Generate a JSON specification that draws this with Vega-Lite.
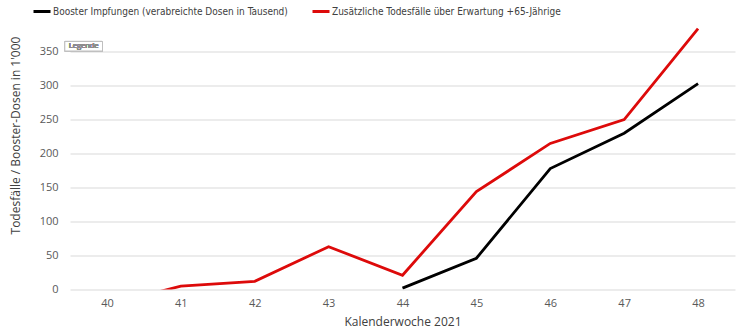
{
  "$schema": "https://vega.github.io/schema/vega-lite/v6.json",
  "width": 665,
  "height": 265,
  "autosize": {"type": "none"},
  "padding": {"left": 70, "top": 24.5, "right": 5, "bottom": 44.5},
  "background": "white",
  "config": {
    "view": {"stroke": null},
    "font": "Open Sans",
    "axisX": {
      "grid": false,
      "domain": false,
      "ticks": false,
      "labelFont": "Open Sans",
      "labelFontSize": 11,
      "labelColor": "#595959",
      "labelPadding": 8,
      "titleFont": "Open Sans",
      "titleFontSize": 12,
      "titleFontWeight": "normal",
      "titleColor": "#404040",
      "titlePadding": 8
    },
    "axisY": {
      "grid": true,
      "gridColor": "#d9d9d9",
      "gridWidth": 1,
      "domain": false,
      "ticks": false,
      "labelFont": "Open Sans",
      "labelFontSize": 11,
      "labelColor": "#595959",
      "labelPadding": 12,
      "titleFont": "Open Sans",
      "titleFontSize": 12,
      "titleFontWeight": "normal",
      "titleColor": "#404040",
      "titleX": -48,
      "titleY": 110.5
    }
  },
  "data": {
    "values": [
      {"woche": 40, "serie": "Zusätzliche Todesfälle über Erwartung +65-Jährige", "wert": -23},
      {"woche": 41, "serie": "Zusätzliche Todesfälle über Erwartung +65-Jährige", "wert": 5},
      {"woche": 42, "serie": "Zusätzliche Todesfälle über Erwartung +65-Jährige", "wert": 12},
      {"woche": 43, "serie": "Zusätzliche Todesfälle über Erwartung +65-Jährige", "wert": 63},
      {"woche": 44, "serie": "Zusätzliche Todesfälle über Erwartung +65-Jährige", "wert": 21},
      {"woche": 45, "serie": "Zusätzliche Todesfälle über Erwartung +65-Jährige", "wert": 144},
      {"woche": 46, "serie": "Zusätzliche Todesfälle über Erwartung +65-Jährige", "wert": 215},
      {"woche": 47, "serie": "Zusätzliche Todesfälle über Erwartung +65-Jährige", "wert": 250},
      {"woche": 48, "serie": "Zusätzliche Todesfälle über Erwartung +65-Jährige", "wert": 384},
      {"woche": 44, "serie": "Booster Impfungen (verabreichte Dosen in Tausend)", "wert": 2},
      {"woche": 45, "serie": "Booster Impfungen (verabreichte Dosen in Tausend)", "wert": 46},
      {"woche": 46, "serie": "Booster Impfungen (verabreichte Dosen in Tausend)", "wert": 178},
      {"woche": 47, "serie": "Booster Impfungen (verabreichte Dosen in Tausend)", "wert": 230},
      {"woche": 48, "serie": "Booster Impfungen (verabreichte Dosen in Tausend)", "wert": 303}
    ]
  },
  "layer": [
    {
      "mark": {"type": "line", "strokeWidth": 2.8, "clip": true, "strokeJoin": "miter"},
      "encoding": {
        "x": {
          "field": "woche",
          "type": "quantitative",
          "scale": {"domain": [39.5, 48.5], "nice": false, "zero": false},
          "axis": {
            "values": [40, 41, 42, 43, 44, 45, 46, 47, 48],
            "format": "d",
            "title": "Kalenderwoche 2021"
          }
        },
        "y": {
          "field": "wert",
          "type": "quantitative",
          "scale": {"domain": [0, 390], "nice": false},
          "axis": {
            "values": [0, 50, 100, 150, 200, 250, 300, 350],
            "format": "d",
            "title": "Todesfälle / Booster-Dosen in 1'000"
          }
        },
        "color": {
          "field": "serie",
          "type": "nominal",
          "scale": {
            "domain": [
              "Booster Impfungen (verabreichte Dosen in Tausend)",
              "Zusätzliche Todesfälle über Erwartung +65-Jährige"
            ],
            "range": ["#000000", "#dd0a0a"]
          },
          "legend": {
            "orient": "none",
            "direction": "horizontal",
            "legendX": -38,
            "legendY": -23,
            "title": null,
            "symbolType": "stroke",
            "symbolSize": 289,
            "symbolStrokeWidth": 3,
            "labelFont": "DejaVu Sans Condensed, Liberation Sans Narrow, Lato",
            "labelFontSize": 10,
            "labelColor": "#404040",
            "labelLimit": 400,
            "labelOffset": 1,
            "columnPadding": 18
          }
        }
      }
    },
    {
      "mark": {"type": "rect", "fill": "white", "stroke": "#bfbfbf", "strokeWidth": 1, "clip": false},
      "encoding": {
        "x": {
          "datum": 39.43,
          "type": "quantitative",
          "axis": {
            "values": [40, 41, 42, 43, 44, 45, 46, 47, 48],
            "format": "d",
            "title": "Kalenderwoche 2021"
          }
        },
        "x2": {"datum": 39.94},
        "y": {
          "datum": 351,
          "type": "quantitative",
          "axis": {
            "values": [0, 50, 100, 150, 200, 250, 300, 350],
            "format": "d",
            "title": "Todesfälle / Booster-Dosen in 1'000"
          }
        },
        "y2": {"datum": 365}
      }
    },
    {
      "mark": {"type": "text", "text": "Legende", "fontSize": 7.5, "color": "#8c8c8c", "font": "Open Sans", "clip": false},
      "encoding": {
        "x": {
          "datum": 39.685,
          "type": "quantitative",
          "axis": {
            "values": [40, 41, 42, 43, 44, 45, 46, 47, 48],
            "format": "d",
            "title": "Kalenderwoche 2021"
          }
        },
        "y": {
          "datum": 358,
          "type": "quantitative",
          "axis": {
            "values": [0, 50, 100, 150, 200, 250, 300, 350],
            "format": "d",
            "title": "Todesfälle / Booster-Dosen in 1'000"
          }
        }
      }
    }
  ]
}
